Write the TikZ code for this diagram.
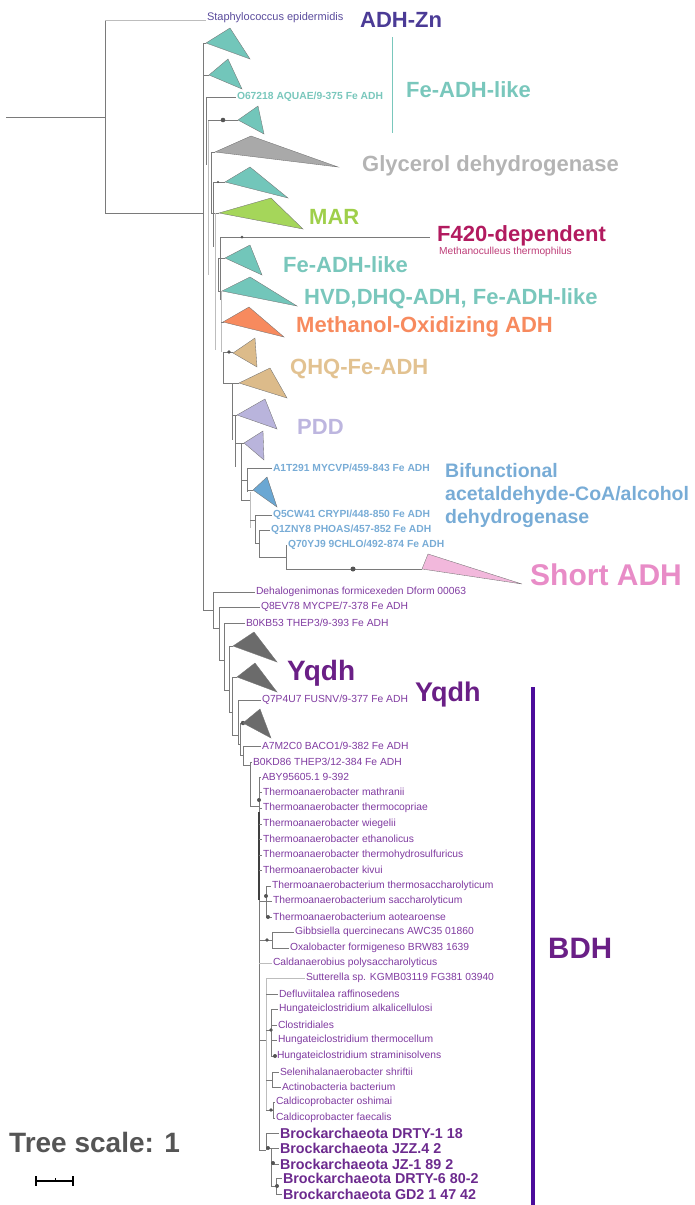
\documentclass[tikz,border=0pt]{standalone}
\usepackage{fontspec}
\setmainfont{Liberation Sans}
\definecolor{cbr}{HTML}{7A7A7A}
\definecolor{clbr}{HTML}{BDBDBD}
\definecolor{cdot}{HTML}{555555}
\definecolor{cteal}{HTML}{72C6BA}
\definecolor{ctealt}{HTML}{79C7BC}
\definecolor{cgly}{HTML}{A9A9A9}
\definecolor{cglyt}{HTML}{B4B4B4}
\definecolor{cgreen}{HTML}{A5D65A}
\definecolor{cgreent}{HTML}{9FCF4A}
\definecolor{ccrim}{HTML}{B21A5F}
\definecolor{corange}{HTML}{F78A5E}
\definecolor{ctan}{HTML}{DCBB8A}
\definecolor{ctant}{HTML}{E2C291}
\definecolor{clav}{HTML}{B9B4DC}
\definecolor{clavt}{HTML}{BDB6DF}
\definecolor{cblue}{HTML}{6AA7D3}
\definecolor{cbluet}{HTML}{78ACD6}
\definecolor{cpink}{HTML}{F2B8DC}
\definecolor{cpinkt}{HTML}{E88CC7}
\definecolor{cdark}{HTML}{6B6B6B}
\definecolor{cpurp}{HTML}{7F3AA0}
\definecolor{cyq}{HTML}{6A1F86}
\definecolor{cbrock}{HTML}{6C2A8E}
\definecolor{cbar}{HTML}{4C0C9B}
\definecolor{cznt}{HTML}{4B3B96}
\definecolor{cstaph}{HTML}{5A4B9C}
\definecolor{cscale}{HTML}{555555}
\begin{document}
\begin{tikzpicture}[x=1pt,y=-1pt,
  br/.style={draw=cbr,line width=0.75pt},
  lbr/.style={draw=clbr,line width=0.75pt},
  clade/.style={draw=black!55,line width=0.35pt},
  leaf/.style={anchor=west,inner sep=0.8pt,text=cpurp,font=\fontsize{10.3}{12}\selectfont},
  bleaf/.style={anchor=west,inner sep=0.8pt,font=\bfseries\fontsize{10.3}{12}\selectfont},
  brock/.style={anchor=west,inner sep=0.8pt,text=cbrock,font=\bfseries\fontsize{14.3}{16}\selectfont},
  big/.style={anchor=west,inner sep=0pt,font=\bfseries\fontsize{22}{26}\selectfont},
  dotc/.style={fill=cdot}]
\useasboundingbox (0,0) rectangle (694,1205);

% ---------------- root ----------------
\draw[br] (6,117) -- (105,117);
\draw[br] (105,20) -- (105,213);
\node[leaf,text=cstaph,font=\fontsize{11}{13}\selectfont] (staph) at (206,18) {Staphylococcus epidermidis};
\draw[lbr] (105,20) -- (staph.west |- 0,20);
\draw[br] (105,213) -- (203,213);

% ---------------- upper trunk ----------------
\draw[br] (203,43) -- (203,610);
\draw[br] (203,43) -- (206,43);
\draw[br] (203,75) -- (209,75);
\draw[br] (206,97) -- (206,165);
\node[bleaf,text=ctealt] (o67) at (236,97) {O67218 AQUAE/9-375 Fe ADH};
\draw[br] (206,97) -- (o67.west);
\draw[lbr] (208,120) -- (208,275);
\draw[br] (208,120) -- (238,120);
\fill[dotc] (223,120) circle (2.3);
\draw[br] (211,152) -- (211,213);
\draw[br] (211,152) -- (215,152);
\draw[br] (213,182) -- (213,247);
\draw[br] (213,182) -- (225,182);
\fill[dotc] (218,182) circle (1.2);
\draw[br] (211,213) -- (219,213);
\draw[lbr] (215,213) -- (215,350);
\draw[br] (220,237) -- (220,300);
\draw[br] (220,237) -- (430,237);
\fill[dotc] (242,237) circle (1.5);
\draw[br] (218,258) -- (218,291);
\draw[br] (218,258) -- (225,258);
\draw[br] (218,291) -- (222,291);
\draw[lbr] (221,291) -- (221,352);
\draw[br] (221,322) -- (224,322);
\draw[br] (223,352) -- (223,383);
\draw[br] (223,352) -- (233,352);
\fill[dotc] (229,352) circle (1.8);
\draw[br] (223,383) -- (239,383);
\draw[br] (232,383) -- (232,440);
\draw[br] (232,415) -- (237,415);
\draw[br] (235,415) -- (235,467);
\draw[br] (235,443) -- (244,443);
\draw[br] (241,443) -- (241,500);
\node[bleaf,text=cbluet] (a1t) at (272,468) {A1T291 MYCVP/459-843 Fe ADH};
\draw[br] (247,468) -- (a1t.west);
\draw[br] (247,468) -- (247,492);
\draw[br] (241,480) -- (247,480);
\draw[br] (247,490) -- (253,490);
\draw[lbr] (250,492) -- (250,528);
\draw[br] (241,500) -- (250,500);
\node[bleaf,text=cbluet] (q5c) at (272,515) {Q5CW41 CRYPI/448-850 Fe ADH};
\draw[br] (255,515) -- (q5c.west);
\draw[br] (255,515) -- (255,543);
\draw[br] (250,520) -- (255,520);
\node[bleaf,text=cbluet] (q1z) at (270,530) {Q1ZNY8 PHOAS/457-852 Fe ADH};
\draw[br] (259,530) -- (q1z.west);
\draw[br] (259,530) -- (259,557);
\draw[br] (255,543) -- (259,543);
\draw[br] (259,557) -- (286,557);
\draw[br] (286,545) -- (286,569);
\node[bleaf,text=cbluet] (q70) at (287,545) {Q70YJ9 9CHLO/492-874 Fe ADH};
\draw[br] (286,545) -- (q70.west);
\draw[br] (286,569) -- (422,569);
\fill[dotc] (353,569) circle (2.5);

% ---------------- collapsed clades (upper) ----------------
\draw[clade,fill=cteal] (206,43) -- (230,28) -- (250,59) -- cycle;
\draw[clade,fill=cteal] (209,75) -- (228,59) -- (242,89) -- cycle;
\draw[clade,fill=cteal] (238,120) -- (258,106) -- (264,134) -- cycle;
\draw[clade,fill=cgly] (215,152) -- (251,136) -- (338,167) -- cycle;
\draw[clade,fill=cteal] (225,182) -- (250,167) -- (288,198) -- cycle;
\draw[clade,fill=cgreen] (219,213) -- (271,198) -- (303,229) -- cycle;
\draw[clade,fill=cteal] (225,258) -- (250,245) -- (262,275) -- cycle;
\draw[clade,fill=cteal] (222,291) -- (250,277) -- (297,306) -- cycle;
\draw[clade,fill=corange] (223,322) -- (249,307) -- (284,337) -- cycle;
\draw[clade,fill=ctan] (233,353) -- (255,338) -- (257,367) -- cycle;
\draw[clade,fill=ctan] (239,383) -- (270,368) -- (287,398) -- cycle;
\draw[clade,fill=clav] (237,415) -- (265,399) -- (277,429) -- cycle;
\draw[clade,fill=clav] (244,443) -- (263,431) -- (264,460) -- cycle;
\draw[clade,fill=cblue] (253,490) -- (267,477) -- (277,507) -- cycle;
\draw[clade,fill=cpink] (422,569) -- (428,554) -- (522,584) -- cycle;

% ---------------- group labels (upper) ----------------
\node[big,text=cznt] (adhzn) at (360,20) {ADH-Zn};
\draw[draw=ctealt,line width=1pt] (392,37) -- (392,133);
\node[big,text=ctealt] (feadh1) at (406,90) {Fe-ADH-like};
\node[big,text=cglyt] (gly) at (362,166) {Glycerol dehydrogenase};
\node[big,text=cgreent] (mar) at (309,217) {MAR};
\node[big,text=ccrim] (f420) at (437,236) {F420-dependent};
\node[anchor=west,inner sep=0pt,text=ccrim!85,font=\fontsize{10.2}{12}\selectfont] (methc) at (439,252) {Methanoculleus thermophilus};
\node[big,text=ctealt] (feadh2) at (283,265) {Fe-ADH-like};
\node[big,text=ctealt] (hvd) at (304,299) {HVD,DHQ-ADH, Fe-ADH-like};
\node[big,text=corange] (meth) at (296,327) {Methanol-Oxidizing ADH};
\node[big,text=ctant] (qhq) at (290,369) {QHQ-Fe-ADH};
\node[big,text=clavt] (pdd) at (297,427) {PDD};
\node[anchor=west,inner sep=0pt,align=left,text=cbluet,font=\bfseries\fontsize{19.5}{23}\selectfont] (bif) at (445,495) {Bifunctional\\acetaldehyde-CoA/alcohol\\dehydrogenase};
\node[anchor=west,inner sep=0pt,text=cpinkt,font=\bfseries\fontsize{30}{34}\selectfont] (short) at (530,575) {Short ADH};

% ---------------- lower tree ----------------
\draw[br] (203,610) -- (213,610);
\draw[br] (213,592) -- (213,628);
\node[leaf] (dehal) at (255,592) {Dehalogenimonas formicexeden Dform 00063};
\draw[br] (213,592) -- (dehal.west);
\draw[br] (213,628) -- (219,628);
\draw[br] (219,607) -- (219,660);
\node[leaf] (q8e) at (260,607) {Q8EV78 MYCPE/7-378 Fe ADH};
\draw[br] (219,607) -- (q8e.west);
\draw[br] (219,660) -- (224,660);
\draw[br] (224,623) -- (224,690);
\node[leaf] (b0kb) at (245,623) {B0KB53 THEP3/9-393 Fe ADH};
\draw[br] (224,623) -- (b0kb.west);
\draw[br] (224,690) -- (229,690);
\draw[br] (229,646) -- (229,712);
\draw[br] (229,646) -- (233,646);
\draw[br] (229,712) -- (232,712);
\draw[br] (232,677) -- (232,735);
\draw[br] (232,677) -- (237,677);
\draw[br] (232,735) -- (238,735);
\draw[br] (238,700) -- (238,744);
\node[leaf] (q7p) at (261,700) {Q7P4U7 FUSNV/9-377 Fe ADH};
\draw[br] (238,700) -- (q7p.west);
\draw[br] (238,744) -- (240,744);
\draw[br] (240,723) -- (240,755);
\draw[br] (240,723) -- (243,723);
\fill[dotc] (243,723) circle (2.2);
\draw[br] (240,755) -- (243,755);
\draw[br] (243,746) -- (243,765);
\node[leaf] (a7m) at (261,746) {A7M2C0 BACO1/9-382 Fe ADH};
\draw[br] (243,746) -- (a7m.west);
\draw[br] (243,765) -- (250,765);
\draw[br] (250,762) -- (250,806);
\node[leaf] (b0kd) at (252,762) {B0KD86 THEP3/12-384 Fe ADH};
\draw[br] (250,762) -- (b0kd.west);
\draw[br] (250,806) -- (259,806);
\draw[br] (259,777) -- (259,1150);
\draw[draw=black!75,line width=1.3pt] (259,812) -- (259,900);
\fill[dotc] (259,800) circle (2);

\node[leaf] (aby) at (261,777) {ABY95605.1 9-392};
\draw[br] (259,777) -- (aby.west);
\foreach \nm/\yy/\tx in {tma/792/mathranii,tco/808/thermocopriae,twi/824/wiegelii,tet/839/ethanolicus,tth/855/thermohydrosulfuricus,tki/870/kivui}{
  \node[leaf] (\nm) at (262,\yy) {Thermoanaerobacter \tx};
  \draw[br] (259,\yy) -- (\nm.west);
}
\draw[br] (259,901) -- (266,901);
\draw[br] (266,886) -- (266,917);
\node[leaf] (tsa1) at (271,886) {Thermoanaerobacterium thermosaccharolyticum};
\draw[br] (266,886) -- (tsa1.west);
\node[leaf] (tsa2) at (272,901) {Thermoanaerobacterium saccharolyticum};
\draw[br] (266,901) -- (tsa2.west);
\node[leaf] (tao) at (272,917) {Thermoanaerobacterium aotearoense};
\draw[br] (266,917) -- (tao.west);
\fill[dotc] (266,896) circle (2);
\fill[dotc] (268,917) circle (2);

\draw[br] (259,940) -- (272,940);
\fill[dotc] (267,940) circle (1.8);
\draw[br] (272,932) -- (272,948);
\node[leaf] (gib) at (294,932) {Gibbsiella quercinecans AWC35 01860};
\draw[br] (272,932) -- (gib.west);
\node[leaf] (oxa) at (289,948) {Oxalobacter formigeneso BRW83 1639};
\draw[br] (272,948) -- (oxa.west);
\node[leaf] (cald) at (272,963) {Caldanaerobius polysaccharolyticus};
\draw[lbr] (259,963) -- (cald.west);

\draw[br] (259,1040) -- (266,1040);
\draw[lbr] (266,978) -- (266,1110);
\node[leaf] (sut) at (305,978) {Sutterella sp. KGMB03119 FG381 03940};
\draw[lbr] (266,978) -- (sut.west);
\node[leaf] (def) at (278,994) {Defluviitalea raffinosedens};
\draw[br] (266,994) -- (def.west);
\draw[br] (266,1030) -- (271,1030);
\draw[br] (271,1009) -- (271,1056);
\node[leaf] (hal) at (278,1009) {Hungateiclostridium alkalicellulosi};
\draw[br] (271,1009) -- (hal.west);
\node[leaf] (clo) at (277,1025) {Clostridiales};
\draw[br] (271,1025) -- (clo.west);
\node[leaf] (hth) at (277,1040) {Hungateiclostridium thermocellum};
\draw[br] (271,1040) -- (hth.west);
\node[leaf] (hst) at (276,1056) {Hungateiclostridium straminisolvens};
\draw[br] (271,1056) -- (hst.west);
\fill[dotc] (271,1030) circle (1.8);
\fill[dotc] (275,1056) circle (2);
\draw[br] (266,1080) -- (272,1080);
\draw[br] (272,1072) -- (272,1087);
\node[leaf] (sel) at (279,1072) {Selenihalanaerobacter shriftii};
\draw[br] (272,1072) -- (sel.west);
\node[leaf] (act) at (281,1087) {Actinobacteria bacterium};
\draw[br] (272,1087) -- (act.west);
\draw[br] (266,1110) -- (273,1110);
\fill[dotc] (271,1110) circle (1.8);
\draw[br] (273,1102) -- (273,1118);
\node[leaf] (cos) at (275,1102) {Caldicoprobacter oshimai};
\draw[br] (273,1102) -- (cos.west);
\node[leaf] (cfa) at (275,1118) {Caldicoprobacter faecalis};
\draw[br] (273,1118) -- (cfa.west);

\draw[br] (259,1150) -- (266,1150);
\draw[br] (266,1133) -- (266,1150);
\node[brock] (br1) at (279,1133) {Brockarchaeota DRTY-1 18};
\draw[br] (266,1133) -- (br1.west);
\draw[br] (266,1148) -- (271,1148);
\fill[dotc] (268,1148) circle (2);
\draw[br] (271,1148) -- (271,1186);
\node[brock] (br2) at (279,1148) {Brockarchaeota JZZ.4 2};
\draw[br] (271,1148) -- (br2.west);
\node[brock] (br3) at (279,1164) {Brockarchaeota JZ-1 89 2};
\draw[br] (271,1164) -- (br3.west);
\fill[dotc] (273,1163) circle (2);
\draw[br] (271,1186) -- (276,1186);
\draw[br] (276,1178) -- (276,1194);
\fill[dotc] (277,1186) circle (2);
\node[brock] (br4) at (282,1178) {Brockarchaeota DRTY-6 80-2};
\draw[br] (276,1178) -- (br4.west);
\node[brock] (br5) at (282,1194) {Brockarchaeota GD2 1 47 42};
\draw[br] (276,1194) -- (br5.west);

% ---------------- collapsed clades (lower) ----------------
\draw[clade,fill=cdark] (233,646) -- (254,632) -- (277,662) -- cycle;
\draw[clade,fill=cdark] (237,677) -- (255,663) -- (277,692) -- cycle;
\draw[clade,fill=cdark] (243,723) -- (260,709) -- (271,738) -- cycle;

% ---------------- group labels (lower) ----------------
\node[anchor=west,inner sep=0pt,text=cyq,font=\bfseries\fontsize{28}{32}\selectfont] (yq1) at (287,673) {Yqdh};
\node[anchor=west,inner sep=0pt,text=cyq,font=\bfseries\fontsize{27}{32}\selectfont] (yq2) at (415,695) {Yqdh};
\draw[draw=cbar,line width=4pt] (533,687) -- (533,1205);
\node[anchor=west,inner sep=0pt,text=cyq,font=\bfseries\fontsize{29.5}{34}\selectfont] (bdh) at (548,948) {BDH};

% ---------------- scale ----------------
\node[anchor=west,inner sep=0pt,text=cscale,font=\bfseries\fontsize{28}{32}\selectfont] (tscale) at (9,1142) {Tree scale: 1};
\draw[line width=1.2pt] (36,1181) -- (73,1181);
\draw[line width=1.2pt] (36,1176) -- (36,1186);
\draw[line width=1.2pt] (73,1176) -- (73,1186);
\draw[line width=0.8pt] (55,1178) -- (55,1181);
\end{tikzpicture}
\end{document}
